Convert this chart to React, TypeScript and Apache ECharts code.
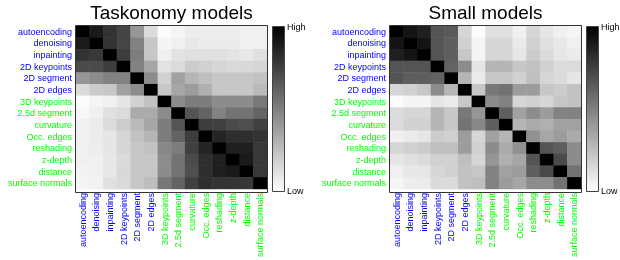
import React, { useEffect, useRef } from "react";
import * as echarts from "echarts";

const tasks = [
  "autoencoding",
  "denoising",
  "inpainting",
  "2D keypoints",
  "2D segment",
  "2D edges",
  "3D keypoints",
  "2.5d segment",
  "curvature",
  "Occ. edges",
  "reshading",
  "z-depth",
  "distance",
  "surface normals",
];
const num2DTasks = 6;

const taskonomyModels = [
  [1.0, 0.9, 0.8, 0.73, 0.41, 0.14, 0.01, 0.04, 0.07, 0.07, 0.07, 0.07, 0.06, 0.06],
  [0.9, 1.0, 0.8, 0.73, 0.49, 0.22, 0.04, 0.06, 0.09, 0.08, 0.08, 0.08, 0.06, 0.06],
  [0.8, 0.78, 1.0, 0.76, 0.51, 0.22, 0.06, 0.11, 0.12, 0.12, 0.12, 0.11, 0.09, 0.12],
  [0.71, 0.71, 0.76, 1.0, 0.49, 0.35, 0.11, 0.14, 0.2, 0.18, 0.16, 0.15, 0.15, 0.16],
  [0.41, 0.45, 0.49, 0.49, 1.0, 0.45, 0.18, 0.37, 0.29, 0.25, 0.22, 0.22, 0.22, 0.24],
  [0.14, 0.2, 0.22, 0.37, 0.45, 1.0, 0.22, 0.35, 0.39, 0.31, 0.22, 0.22, 0.22, 0.27],
  [0.01, 0.04, 0.06, 0.1, 0.18, 0.24, 1.0, 0.45, 0.51, 0.51, 0.45, 0.45, 0.45, 0.53],
  [0.03, 0.06, 0.12, 0.14, 0.33, 0.33, 0.45, 1.0, 0.67, 0.61, 0.49, 0.55, 0.55, 0.61],
  [0.06, 0.08, 0.14, 0.2, 0.27, 0.35, 0.51, 0.67, 1.0, 0.76, 0.75, 0.71, 0.69, 0.75],
  [0.06, 0.08, 0.1, 0.16, 0.24, 0.29, 0.51, 0.61, 0.76, 1.0, 0.86, 0.82, 0.82, 0.8],
  [0.06, 0.07, 0.1, 0.16, 0.22, 0.24, 0.47, 0.51, 0.75, 0.86, 1.0, 0.88, 0.88, 0.78],
  [0.06, 0.06, 0.09, 0.14, 0.22, 0.22, 0.45, 0.55, 0.71, 0.82, 0.88, 1.0, 0.9, 0.78],
  [0.05, 0.06, 0.09, 0.15, 0.22, 0.22, 0.45, 0.55, 0.69, 0.82, 0.88, 0.9, 1.0, 0.78],
  [0.04, 0.05, 0.12, 0.14, 0.22, 0.26, 0.53, 0.61, 0.75, 0.82, 0.8, 0.8, 0.78, 1.0],
];

const smallModels = [
  [1.0, 0.92, 0.88, 0.67, 0.65, 0.16, 0.01, 0.12, 0.12, 0.06, 0.16, 0.1, 0.06, 0.04],
  [0.92, 1.0, 0.92, 0.67, 0.63, 0.18, 0.04, 0.16, 0.16, 0.08, 0.18, 0.12, 0.09, 0.06],
  [0.88, 0.92, 1.0, 0.67, 0.63, 0.22, 0.04, 0.16, 0.16, 0.1, 0.2, 0.14, 0.1, 0.08],
  [0.67, 0.67, 0.67, 1.0, 0.61, 0.45, 0.1, 0.29, 0.29, 0.22, 0.24, 0.18, 0.14, 0.14],
  [0.67, 0.63, 0.63, 0.61, 1.0, 0.29, 0.08, 0.22, 0.22, 0.18, 0.25, 0.16, 0.14, 0.1],
  [0.16, 0.18, 0.22, 0.45, 0.29, 1.0, 0.22, 0.53, 0.55, 0.39, 0.39, 0.22, 0.2, 0.24],
  [0.01, 0.04, 0.04, 0.1, 0.08, 0.22, 1.0, 0.45, 0.49, 0.16, 0.18, 0.16, 0.22, 0.24],
  [0.14, 0.16, 0.16, 0.29, 0.22, 0.53, 0.41, 1.0, 0.63, 0.37, 0.45, 0.39, 0.49, 0.49],
  [0.14, 0.18, 0.18, 0.29, 0.22, 0.55, 0.47, 0.63, 1.0, 0.29, 0.33, 0.31, 0.37, 0.37],
  [0.06, 0.08, 0.1, 0.2, 0.18, 0.39, 0.16, 0.37, 0.29, 1.0, 0.43, 0.35, 0.39, 0.33],
  [0.16, 0.18, 0.2, 0.25, 0.25, 0.39, 0.18, 0.45, 0.33, 0.43, 1.0, 0.67, 0.63, 0.45],
  [0.1, 0.12, 0.14, 0.18, 0.18, 0.25, 0.16, 0.41, 0.31, 0.35, 0.67, 1.0, 0.71, 0.45],
  [0.06, 0.09, 0.1, 0.16, 0.18, 0.24, 0.22, 0.49, 0.37, 0.39, 0.63, 0.71, 1.0, 0.55],
  [0.04, 0.07, 0.08, 0.14, 0.14, 0.24, 0.25, 0.49, 0.39, 0.35, 0.45, 0.45, 0.55, 1.0],
];

const panelTitles = ["Taskonomy models", "Small models"];
const colorbarLabels = ["High", "Low"];

export default function App() {
  const ref = useRef<HTMLDivElement>(null);

  useEffect(() => {
    if (!ref.current) return;
    const chart = echarts.init(ref.current, null, { renderer: "svg" });
    const font = "'Liberation Sans', Arial, Helvetica, sans-serif";
    const TOP = 26;
    const W = 191;
    const H = 166;
    const panels = [
      { left: 76, matrix: taskonomyModels, title: panelTitles[0] },
      { left: 390, matrix: smallModels, title: panelTitles[1] },
    ];
    const labelColor = (i: number) => (i < num2DTasks ? "#0000ff" : "#00ff00");

    const graphic: any[] = [];
    panels.forEach((p) => {
      graphic.push({
        type: "text",
        x: p.left + W / 2,
        y: 3,
        z: 100,
        style: {
          text: p.title,
          align: "center",
          verticalAlign: "top",
          fontSize: 19,
          fontFamily: font,
          fill: "#000",
        },
      });
      graphic.push({
        type: "rect",
        z: 100,
        shape: { x: p.left - 0.5, y: TOP - 0.5, width: W + 1, height: H + 1 },
        style: { fill: "transparent", stroke: "#333", lineWidth: 1 },
      });
      const cbx = p.left + W + 5.5;
      graphic.push({
        type: "rect",
        z: 100,
        shape: { x: cbx, y: TOP + 0.5, width: 12, height: H - 1 },
        style: {
          fill: new echarts.graphic.LinearGradient(0, 0, 0, 1, [
            { offset: 0, color: "#000000" },
            { offset: 1, color: "#ffffff" },
          ]),
          stroke: "#444",
          lineWidth: 1,
        },
      });
      colorbarLabels.forEach((lab, k) => {
        graphic.push({
          type: "text",
          x: cbx + 14.5,
          y: k === 0 ? TOP + 1 : TOP + H - 1,
          z: 100,
          style: {
            text: lab,
            align: "left",
            verticalAlign: "middle",
            fontSize: 9,
            fontFamily: font,
            fill: "#000",
          },
        });
      });
    });

    chart.setOption({
      animation: false,
      grid: panels.map((p) => ({ left: p.left, top: TOP, width: W, height: H })),
      xAxis: panels.map((_, i) => ({
        type: "category",
        gridIndex: i,
        data: tasks.map((t, j) => ({ value: t, textStyle: { color: labelColor(j) } })),
        axisLabel: { rotate: 90, fontSize: 9, fontFamily: font, margin: 4, interval: 0 },
        axisTick: { show: false },
        axisLine: { show: false },
        splitLine: { show: false },
        splitArea: { show: false },
      })),
      yAxis: panels.map((_, i) => ({
        type: "category",
        gridIndex: i,
        inverse: true,
        data: tasks.map((t, j) => ({ value: t, textStyle: { color: labelColor(j) } })),
        axisLabel: { fontSize: 9, fontFamily: font, margin: 4, interval: 0 },
        axisTick: { show: false },
        axisLine: { show: false },
        splitLine: { show: false },
        splitArea: { show: false },
      })),
      visualMap: panels.map((_, i) => ({
        type: "continuous",
        show: false,
        seriesIndex: i,
        min: 0,
        max: 1,
        inRange: { color: ["#ffffff", "#000000"] },
      })),
      series: panels.map((p, i) => ({
        type: "heatmap",
        xAxisIndex: i,
        yAxisIndex: i,
        data: p.matrix.flatMap((row, r) => row.map((v, c) => [c, r, v])),
        itemStyle: { borderWidth: 0 },
        emphasis: { disabled: true },
      })),
      graphic,
    });

    return () => chart.dispose();
  }, []);

  return (
    <div
      ref={ref}
      style={{ position: "fixed", left: 0, top: 0, width: 620, height: 260 }}
    />
  );
}
